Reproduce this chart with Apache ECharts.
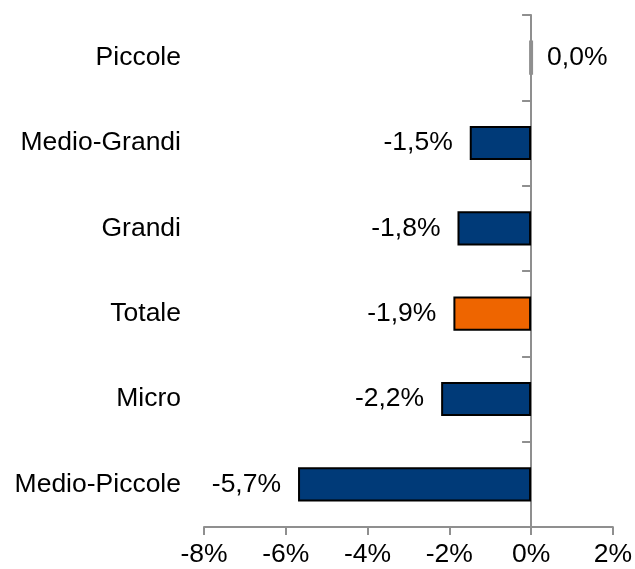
<!DOCTYPE html>
<html>
<head>
<meta charset="utf-8">
<style>
  html, body { margin: 0; padding: 0; background: #fff; }
  #chart { width: 635px; height: 569px; }
</style>
<script src="https://cdn.jsdelivr.net/npm/echarts@6/dist/echarts.min.js"></script>
</head>
<body>
<div id="chart"></div>
<script>
// categories top to bottom
const categories = ["Piccole", "Medio-Grandi", "Grandi", "Totale", "Micro", "Medio-Piccole"];
const values = [0.0, -1.5, -1.8, -1.9, -2.2, -5.7];
const xTicks = [-8, -6, -4, -2, 0, 2];

const BLUE = "#003a78";
const ORANGE = "#ee6500";
const AXIS = "#8f8f8f";
const FONT = "Liberation Sans";
const SIZE = 26.5;

const fmt = (v) => v.toFixed(1).replace(".", ",") + "%";

const barData = values.map((v, i) => {
  const item = {
    value: v,
    itemStyle: {
      color: categories[i] === "Totale" ? ORANGE : BLUE,
      borderColor: "#000",
      borderWidth: 2,
    },
  };
  if (v === 0) {
    // zero bar: just a grey sliver on the axis
    item.itemStyle = { color: AXIS, borderColor: AXIS, borderWidth: 4 };
    item.label = { position: "right", distance: 14 };
  }
  return item;
});

const chart = echarts.init(document.getElementById("chart"));
chart.setOption({
  animation: false,
  grid: { left: 204, right: 22, top: 15, bottom: 42 },
  xAxis: {
    type: "value",
    min: xTicks[0],
    max: xTicks[xTicks.length - 1],
    interval: 2,
    splitLine: { show: false },
    axisLine: { show: true, lineStyle: { color: AXIS, width: 2 } },
    axisTick: { show: true, length: 8, lineStyle: { color: AXIS, width: 2 } },
    axisLabel: {
      color: "#000",
      fontSize: SIZE,
      fontFamily: FONT,
      margin: 14,
      formatter: (v) => v + "%",
    },
  },
  yAxis: [
    {
      type: "category",
      inverse: true,
      data: categories,
      axisLine: { show: false, onZero: false },
      axisTick: { show: false },
      axisLabel: { color: "#000", fontSize: SIZE, fontFamily: FONT, margin: 23 },
    },
    {
      type: "category",
      inverse: true,
      position: "left",
      data: categories,
      axisLine: { show: true, onZero: true, lineStyle: { color: AXIS, width: 2 } },
      axisTick: { show: true, length: 9, lineStyle: { color: AXIS, width: 2 } },
      axisLabel: { show: false },
    },
  ],
  series: [
    {
      type: "bar",
      yAxisIndex: 0,
      data: barData,
      barWidth: "40%",
      label: {
        show: true,
        position: "left",
        distance: 17,
        color: "#000",
        fontSize: SIZE,
        fontFamily: FONT,
        formatter: (p) => fmt(p.value),
      },
    },
  ],
});
</script>
</body>
</html>
